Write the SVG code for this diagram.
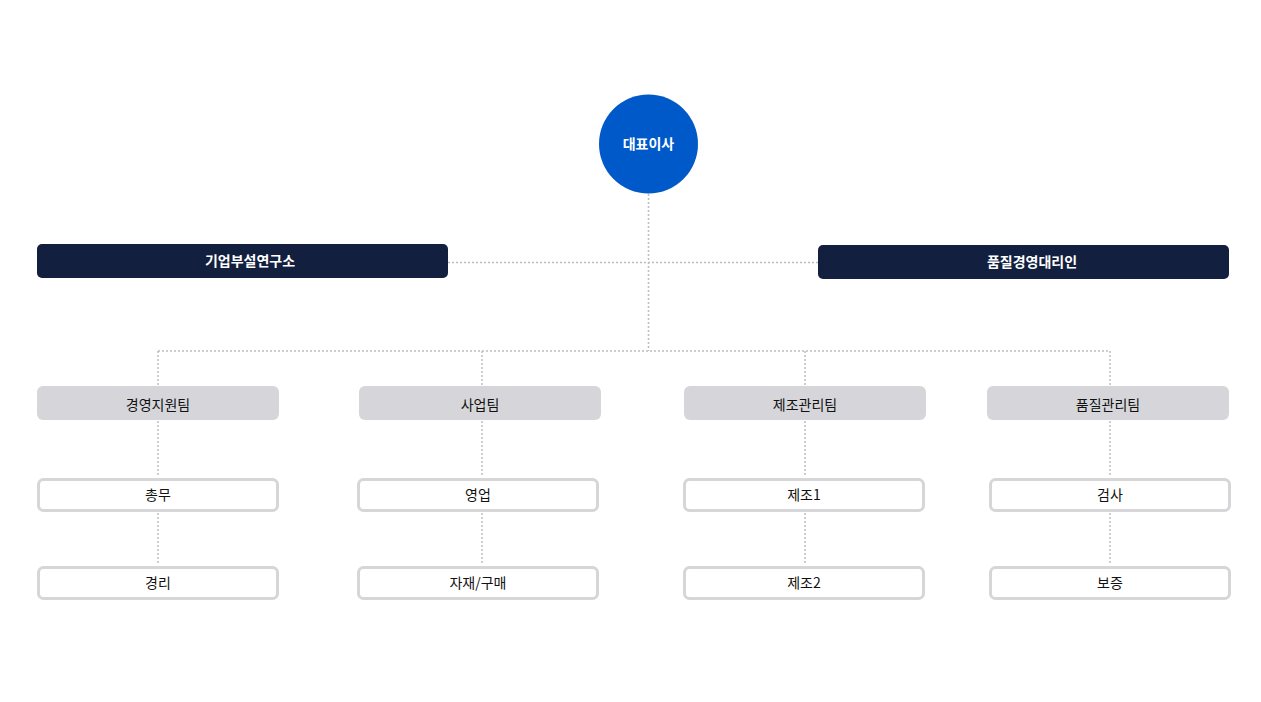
<svg xmlns="http://www.w3.org/2000/svg" width="1261" height="702" viewBox="0 0 1261 702">
<style>
text{font-family:"Noto Sans CJK KR","Noto Sans",sans-serif;font-size:14px;text-anchor:middle;dominant-baseline:central}
.w{fill:#fff;font-weight:700}
.k{fill:#111;font-weight:400}
.dark{fill:#121f3f}
.team{fill:#d6d6da}
.sub{fill:#fff;stroke:#d6d6d9;stroke-width:3}
.c line{stroke:#bdbdbd;stroke-width:1.5;stroke-dasharray:2 2}
</style>
<rect width="1261" height="702" fill="#fff"/>
<g class="c" id="connectors">
<line x1="648.5" y1="194" x2="648.5" y2="351"/>
<line x1="448" y1="262.5" x2="818" y2="262.5"/>
<line x1="158" y1="351" x2="1110" y2="351"/>
<line x1="158" y1="351" x2="158" y2="386"/>
<line x1="482" y1="351" x2="482" y2="386"/>
<line x1="805" y1="351" x2="805" y2="386"/>
<line x1="1110" y1="351" x2="1110" y2="386"/>
<line x1="158" y1="421" x2="158" y2="477"/>
<line x1="482" y1="421" x2="482" y2="477"/>
<line x1="805" y1="421" x2="805" y2="477"/>
<line x1="1110" y1="421" x2="1110" y2="477"/>
<line x1="158" y1="513" x2="158" y2="565"/>
<line x1="482" y1="513" x2="482" y2="565"/>
<line x1="805" y1="513" x2="805" y2="565"/>
<line x1="1110" y1="513" x2="1110" y2="565"/>
</g>
<g id="ceo"><circle cx="648.5" cy="144" r="49.5" fill="#0059c9"/><text class="w" x="648.5" y="142.5">대표이사</text></g>
<g id="lab"><rect class="dark" x="37" y="244" width="411" height="34" rx="5"/><text class="w" x="250" y="259.5">기업부설연구소</text></g>
<g id="qrep"><rect class="dark" x="818" y="245" width="411" height="34" rx="5"/><text class="w" x="1032" y="260.5">품질경영대리인</text></g>
<g id="t1"><rect class="team" x="37" y="386" width="242" height="34" rx="6"/><text class="k" x="158" y="403.5">경영지원팀</text></g>
<g id="t2"><rect class="team" x="359" y="386" width="242" height="34" rx="6"/><text class="k" x="480" y="403.5">사업팀</text></g>
<g id="t3"><rect class="team" x="684" y="386" width="242" height="34" rx="6"/><text class="k" x="805" y="403.5">제조관리팀</text></g>
<g id="t4"><rect class="team" x="987" y="386" width="242" height="34" rx="6"/><text class="k" x="1108" y="403.5">품질관리팀</text></g>
<g id="s11"><rect class="sub" x="38.5" y="479.5" width="239" height="31" rx="5"/><text class="k" x="158" y="493.5">총무</text></g>
<g id="s12"><rect class="sub" x="38.5" y="567.5" width="239" height="31" rx="5"/><text class="k" x="158" y="581.5">경리</text></g>
<g id="s21"><rect class="sub" x="358.5" y="479.5" width="239" height="31" rx="5"/><text class="k" x="478" y="493.5">영업</text></g>
<g id="s22"><rect class="sub" x="358.5" y="567.5" width="239" height="31" rx="5"/><text class="k" x="478" y="581.5">자재/구매</text></g>
<g id="s31"><rect class="sub" x="684.5" y="479.5" width="239" height="31" rx="5"/><text class="k" x="804" y="493.5">제조1</text></g>
<g id="s32"><rect class="sub" x="684.5" y="567.5" width="239" height="31" rx="5"/><text class="k" x="804" y="581.5">제조2</text></g>
<g id="s41"><rect class="sub" x="990.5" y="479.5" width="239" height="31" rx="5"/><text class="k" x="1110" y="493.5">검사</text></g>
<g id="s42"><rect class="sub" x="990.5" y="567.5" width="239" height="31" rx="5"/><text class="k" x="1110" y="581.5">보증</text></g>
</svg>
